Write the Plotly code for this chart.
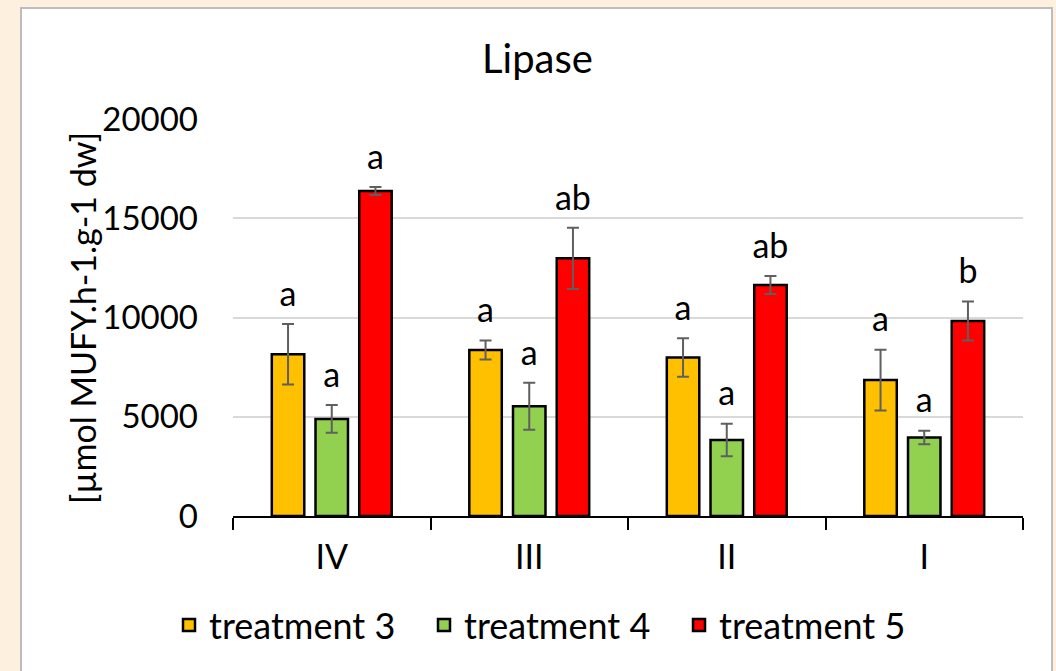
import plotly.graph_objects as go

categories = ["IV", "III", "II", "I"]
series_names = ["treatment 3", "treatment 4", "treatment 5"]
t3_values = [8150, 8360, 7990, 6850]
t4_values = [4890, 5530, 3830, 3960]
t5_values = [16370, 12980, 11640, 9820]
t3_errors = [1520, 480, 970, 1530]
t4_errors = [700, 1180, 820, 340]
t5_errors = [200, 1540, 450, 980]
t3_letters = ["a", "a", "a", "a"]
t4_letters = ["a", "a", "a", "a"]
t5_letters = ["a", "ab", "ab", "b"]
colors = ["#FFC000", "#92D050", "#FF0000"]

values = [t3_values, t4_values, t5_values]
errors = [t3_errors, t4_errors, t5_errors]
letters = [t3_letters, t4_letters, t5_letters]

FONT = "Lato"
W, H = 1056, 671
L, R, T, B = 233, 33, 119, 155
pw, ph = W - L - R, H - T - B
GAP = 0.336

fig = go.Figure()
for i, name in enumerate(series_names):
    fig.add_trace(go.Bar(
        x=categories, y=values[i], name=name, offsetgroup=str(i),
        marker=dict(color=colors[i], line=dict(color="black", width=2.5)),
        error_y=dict(type="data", array=errors[i], visible=True,
                     color="#5F5F5F", thickness=2, width=6),
    ))
for i, name in enumerate(series_names):
    fig.add_trace(go.Scatter(
        x=categories, y=[v + e for v, e in zip(values[i], errors[i])],
        mode="markers+text", text=letters[i], textposition="top center",
        textfont=dict(family=FONT, size=34, color="black"),
        marker=dict(size=14, opacity=0, color="white"),
        offsetgroup=str(i), showlegend=False, hoverinfo="skip",
    ))

def px_x(p):
    return (p - L) / pw

def px_y(p):
    return (H - B - p) / ph

fig.add_shape(type="rect", xref="paper", yref="paper", layer="below",
              x0=px_x(21), x1=px_x(1052), y0=px_y(690), y1=px_y(8),
              fillcolor="white", line=dict(color="#BDBDBD", width=2))

fig.add_annotation(text="Lipase", xref="paper", yref="paper",
                   x=px_x(537), y=px_y(58), showarrow=False,
                   xanchor="center", yanchor="middle",
                   font=dict(family=FONT, size=40, color="black"))
fig.add_annotation(text="[µmol MUFY.h-1.g-1 dw]", xref="paper", yref="paper",
                   x=px_x(82), y=px_y(318), showarrow=False, textangle=-90,
                   xanchor="center", yanchor="middle",
                   font=dict(family=FONT, size=34, color="black"))

fig.update_layout(
    width=W, height=H,
    margin=dict(l=L, r=R, t=T, b=B, autoexpand=False),
    paper_bgcolor="#FDF0DF", plot_bgcolor="white",
    barmode="group", bargap=GAP, bargroupgap=0.257,
    scattermode="group", scattergap=GAP,
    font=dict(family=FONT, size=32, color="black"),
    showlegend=True,
    legend=dict(orientation="h", x=px_x(169), xanchor="left", y=px_y(625),
                yanchor="middle", font=dict(family=FONT, size=36),
                bgcolor="rgba(0,0,0,0)", entrywidth=210, itemclick=False),
)
fig.update_xaxes(showline=True, linecolor="black", linewidth=2,
                 ticks="outside", tickson="boundaries", ticklen=12,
                 tickwidth=2, tickcolor="black", showgrid=False,
                 tickfont=dict(family=FONT, size=34), ticklabelstandoff=10)
fig.update_yaxes(range=[0, 20000], tickvals=[0, 5000, 10000, 15000, 20000],
                 ticktext=["0", "5000", "10000", "15000", "20000"],
                 showgrid=True, gridcolor="#D9D9D9", gridwidth=2,
                 zeroline=False, showline=False, ticks="",
                 tickfont=dict(family=FONT, size=33), ticklabelstandoff=34)

fig.write_html("out.html", config={"displayModeBar": False},
               post_script="document.body.style.margin='0px';"
                           "document.body.style.background='#FDF0DF';")
